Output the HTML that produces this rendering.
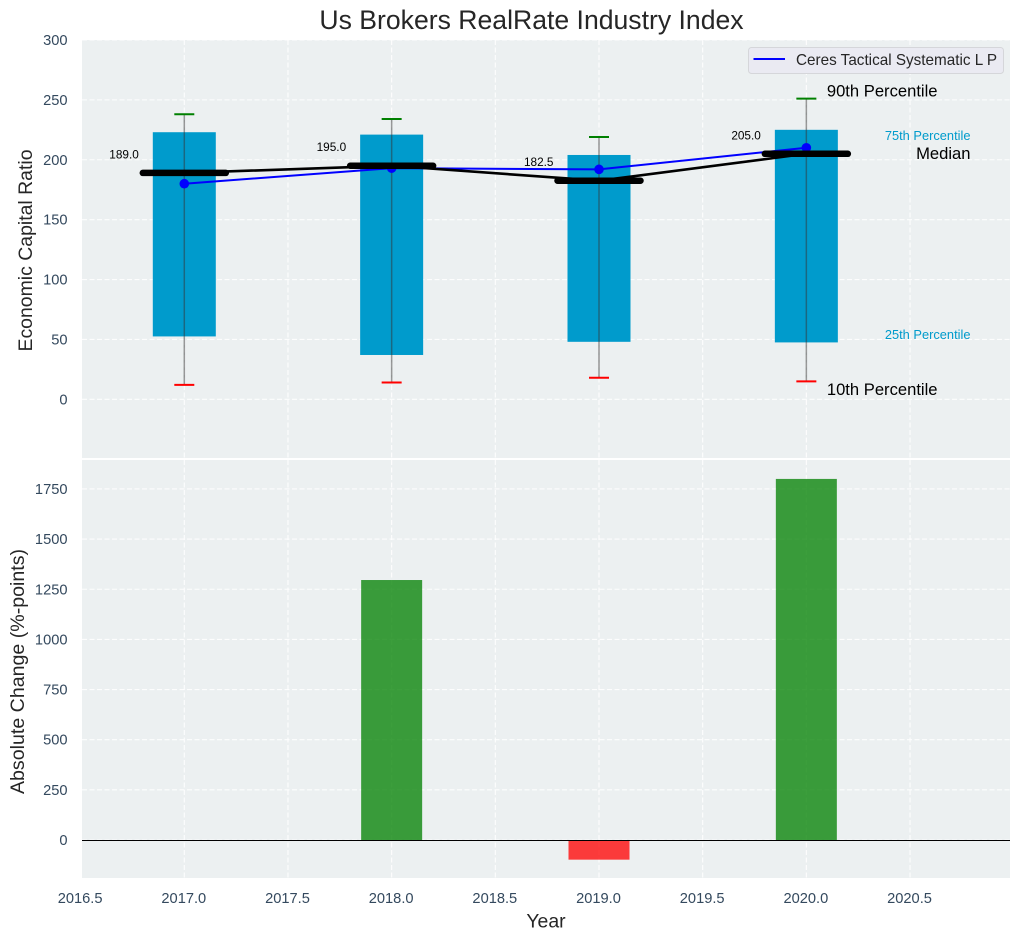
<!DOCTYPE html>
<html lang="en">
<head>
<meta charset="utf-8">
<title>Us Brokers RealRate Industry Index</title>
<style>
html,body{margin:0;padding:0;background:#fff;width:1020px;height:940px;overflow:hidden}
svg{display:block;font-family:"Liberation Sans",Arial,sans-serif}
</style>
</head>
<body>
<svg id="chart" width="1020" height="940" viewBox="0 0 1020 940" xmlns="http://www.w3.org/2000/svg">
  <rect x="0" y="0" width="1020" height="940" fill="#ffffff"/>
  <rect x="82" y="40" width="928" height="418" fill="#ecf0f1"/>
  <rect x="82" y="460" width="928" height="418" fill="#ecf0f1"/>
  <g id="grid"></g>
  <g id="bars"></g>
  <g id="boxes"></g>
  <g id="series"></g>
  <g id="medians"></g>
  <g id="labels"></g>
  <g id="ticks"></g>
  <text x="531.5" y="29" text-anchor="middle" font-size="26.6" fill="#262626">Us Brokers RealRate Industry Index</text>
  <text x="546" y="927.5" text-anchor="middle" font-size="19.44" fill="#262626">Year</text>
  <text transform="translate(32,250.5) rotate(-90)" text-anchor="middle" font-size="19.44" fill="#262626">Economic Capital Ratio</text>
  <text transform="translate(24,671.5) rotate(-90)" text-anchor="middle" font-size="19.6" fill="#262626">Absolute Change (%-points)</text>
  <g>
    <rect x="748.5" y="47.5" width="255" height="26" rx="3" fill="#eaeaf2" stroke="#d5d6da" stroke-width="1"/>
    <line x1="753.5" y1="59" x2="785" y2="59" stroke="#0000ff" stroke-width="2"/>
    <text x="796" y="65" font-size="15.27" fill="#262626">Ceres Tactical Systematic L P</text>
  </g>
</svg>
<script>
const years = [2017, 2018, 2019, 2020];
const p10 = [12, 14, 18, 15];
const p25 = [52.5, 37, 48, 47.5];
const median = [189.0, 195.0, 182.5, 205.0];
const p75 = [223, 221, 204, 225];
const p90 = [238, 234, 219, 251];
const company = [180, 193, 192, 210];
const absChange = [0, 1296, -98, 1800];
const xTicks = [2016.5, 2017.0, 2017.5, 2018.0, 2018.5, 2019.0, 2019.5, 2020.0, 2020.5];
const topYTicks = [0, 50, 100, 150, 200, 250, 300];
const bottomYTicks = [0, 250, 500, 750, 1000, 1250, 1500, 1750];

const NS = 'http://www.w3.org/2000/svg';
const xScale = v => 184.3 + (v - 2017) * 207.35;
const yTop = v => 399.3 - v * 1.1977;
const yBot = v => 840 - v * 0.2006;

function make(parent, tag, attrs, text) {
  const el = document.createElementNS(NS, tag);
  for (const k in attrs) el.setAttribute(k, attrs[k]);
  if (text !== undefined) el.textContent = text;
  parent.appendChild(el);
  return el;
}
const gGrid = document.getElementById('grid');
const gBars = document.getElementById('bars');
const gBoxes = document.getElementById('boxes');
const gSeries = document.getElementById('series');
const gMed = document.getElementById('medians');
const gLabels = document.getElementById('labels');
const gTicks = document.getElementById('ticks');

const gridStyle = {stroke: '#ffffff', 'stroke-width': 1.1, 'stroke-dasharray': '5 2.5', opacity: 0.9};

xTicks.forEach(t => {
  const x = xScale(t);
  if (t > 2016.5) {
    [[40, 458], [460, 878]].forEach(r => {
      const g = make(gGrid, 'line', Object.assign({x1: x, x2: x, y1: r[0], y2: r[1]}, gridStyle));
      
      
    });
  }
  const lab = make(gTicks, 'text', {x: x - 0.5, y: 903, 'text-anchor': 'middle', 'font-size': 14.65, fill: '#34495e'}, t.toFixed(1));
  
  
});

topYTicks.forEach(t => {
  const y = yTop(t);
  const g = make(gGrid, 'line', Object.assign({x1: 82, x2: 1010, y1: y, y2: y}, gridStyle));
  
  
  const lab = make(gTicks, 'text', {x: 67.5, y: y + 5, 'text-anchor': 'end', 'font-size': 14.65, fill: '#34495e'}, String(t));
  
  
});

bottomYTicks.forEach(t => {
  const y = yBot(t);
  const g = make(gGrid, 'line', Object.assign({x1: 82, x2: 1010, y1: y, y2: y}, gridStyle));
  
  
  const lab = make(gTicks, 'text', {x: 67.5, y: y + 5, 'text-anchor': 'end', 'font-size': 14.65, fill: '#34495e'}, String(t));
  
  
});

/* change bars */
years.forEach((yr, i) => {
  const v = absChange[i];
  if (v === 0) return;
  const y0 = yBot(0), y1 = yBot(v);
  const r = make(gBars, 'rect', {
    x: xScale(yr) - 30.5, width: 61,
    y: Math.min(y0, y1), height: Math.abs(y1 - y0),
    fill: v >= 0 ? '#008000' : '#ff0000',
    'fill-opacity': 0.76
  });
  
  
});
const zero = make(gBars, 'line', {x1: 82, x2: 1010, y1: yBot(0) + 0.5, y2: yBot(0) + 0.5, stroke: '#000000', 'stroke-width': 1.1});



/* boxes and whiskers */
years.forEach((yr, i) => {
  const x = xScale(yr);
  const box = make(gBoxes, 'rect', {
    x: x - 31.5, width: 63,
    y: yTop(p75[i]), height: yTop(p25[i]) - yTop(p75[i]),
    fill: '#009bcc'
  });
  
  
  const w = make(gBoxes, 'line', {x1: x, x2: x, y1: yTop(p90[i]), y2: yTop(p10[i]), stroke: '#333333', 'stroke-opacity': 0.5, 'stroke-width': 1.5});
  
  
  const hi = make(gBoxes, 'line', {x1: x - 10, x2: x + 10, y1: yTop(p90[i]), y2: yTop(p90[i]), stroke: '#008000', 'stroke-width': 2});
  
  
  const lo = make(gBoxes, 'line', {x1: x - 10, x2: x + 10, y1: yTop(p10[i]), y2: yTop(p10[i]), stroke: '#ff0000', 'stroke-width': 2});
  
  
});

/* company series */
const bluePts = years.map((yr, i) => xScale(yr) + ',' + yTop(company[i])).join(' ');
const blueLine = make(gSeries, 'polyline', {points: bluePts, fill: 'none', stroke: '#0000ff', 'stroke-width': 2});


years.forEach((yr, i) => {
  const c = make(gSeries, 'circle', {cx: xScale(yr), cy: yTop(company[i]), r: 4.8, fill: '#0000ff'});
  
  
});

/* median line and bars */
const medPts = years.map((yr, i) => xScale(yr) + ',' + yTop(median[i])).join(' ');
const medLine = make(gMed, 'polyline', {points: medPts, fill: 'none', stroke: '#000000', 'stroke-width': 2.6});


years.forEach((yr, i) => {
  const x = xScale(yr), y = yTop(median[i]);
  const m = make(gMed, 'line', {x1: x - 41.5, x2: x + 41.5, y1: y, y2: y, stroke: '#000000', 'stroke-width': 6.5, 'stroke-linecap': 'round'});
  
  
  const t = make(gLabels, 'text', {x: x - 45.5, y: y - 14.5, 'text-anchor': 'end', 'font-size': 11.8, fill: '#000000'}, median[i].toFixed(1));
  
  
});

/* percentile annotations on the last year */
const last = years.length - 1;
const lx = xScale(years[last]);
const a90 = make(gLabels, 'text', {x: lx + 20.5, y: yTop(p90[last]) - 2, 'font-size': 16.6, fill: '#000000'}, '90th Percentile');


const a10 = make(gLabels, 'text', {x: lx + 20.5, y: yTop(p10[last]) + 13.5, 'font-size': 16.6, fill: '#000000'}, '10th Percentile');


const aMed = make(gLabels, 'text', {x: 970.5, y: yTop(median[last]) + 5.3, 'text-anchor': 'end', 'font-size': 16.6, fill: '#000000'}, 'Median');


const a75 = make(gLabels, 'text', {x: 970.5, y: yTop(p75[last]) + 10, 'text-anchor': 'end', 'font-size': 12.85, fill: '#009bcc'}, '75th Percentile');


const a25 = make(gLabels, 'text', {x: 970.5, y: yTop(p25[last]) - 3.5, 'text-anchor': 'end', 'font-size': 12.85, fill: '#009bcc'}, '25th Percentile');


</script>
</body>
</html>
